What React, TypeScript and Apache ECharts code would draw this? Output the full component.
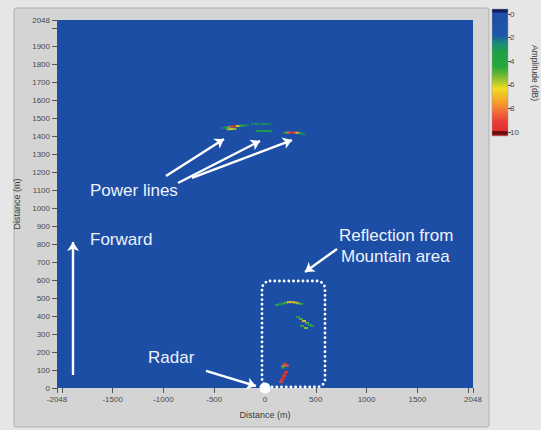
import React, { useEffect, useRef } from "react";
import * as echarts from "echarts";

// ---- axis ticks / labels ----
const xLabelValues = [-2048, -1500, -1000, -500, 0, 500, 1000, 1500, 2048];
const xTickValues = [-2048, -2000, -1500, -1000, -500, 0, 500, 1000, 1500, 2000, 2048];
const yLabelValues = [0, 100, 200, 300, 400, 500, 600, 700, 800, 900, 1000, 1100, 1200, 1300, 1400, 1500, 1600, 1700, 1800, 1900, 2048];
const yTickValues = [0, 100, 200, 300, 400, 500, 600, 700, 800, 900, 1000, 1100, 1200, 1300, 1400, 1500, 1600, 1700, 1800, 1900, 2000, 2048];

// ---- amplitude colour scale (dB) ----
const ampMin = 0;
const ampMax = 10;
const ampColors = ["#1f4ea6", "#1f52a8", "#1d6a98", "#1a9a52", "#24a63e", "#5cb234", "#dcd424", "#f4b42a", "#f2763a", "#e84436", "#e02a2a"];

// ---- echoes: [distance x (m), distance y (m), amplitude] ----
const powerLineA = [
  [-413, 1448, 2.5], [-384, 1450, 3.5], [-354, 1452, 5], [-325, 1455, 9], [-295, 1457, 9.5],
  [-266, 1458, 6], [-236, 1460, 4.5], [-207, 1461, 3.5], [-177, 1462, 2.5],
  [-360, 1440, 5.5], [-330, 1441, 6], [-300, 1442, 5.5],
];
const powerLineB = [
  [-118, 1469, 2.5], [-80, 1470, 3], [-40, 1470, 2.5], [0, 1469, 3], [40, 1468, 2.5],
  [-70, 1430, 3.5], [-30, 1431, 4], [10, 1430, 4], [50, 1429, 3.5],
];
const powerLineC = [
  [200, 1421, 4], [230, 1422, 8], [260, 1422, 9.5], [290, 1421, 9], [320, 1420, 7],
  [350, 1418, 4], [380, 1412, 2.5],
];
const mountainA = [
  [118, 462, 4], [148, 466, 3.5], [177, 470, 4], [207, 475, 5], [236, 478, 6],
  [266, 478, 7], [295, 476, 6.5], [325, 472, 5.5], [354, 468, 4.5],
];
const mountainB = [
  [325, 395, 4], [354, 384, 5], [384, 373, 6.5], [413, 362, 5], [443, 351, 4], [463, 345, 3.5],
  [364, 345, 4.5], [404, 334, 5.5],
];
const mountainC = [
  [195, 135, 9], [180, 122, 8], [215, 125, 8.5], [177, 114, 4],
  [207, 89, 9.5], [197, 78, 10], [187, 67, 9.5], [177, 55, 10], [167, 45, 9.5], [158, 34, 9],
];

// ---- annotations (data coordinates) ----
const radarPos = [[0, 0]];
const arrows = [
  [[-1890, 72], [-1890, 812]],
  [[-975, 1180], [-404, 1386]],
  [[-857, 1141], [-49, 1375]],
  [[-719, 1169], [266, 1380]],
  [[709, 774], [394, 646]],
  [[-581, 95], [-89, 11]],
];
const notes = [
  { text: "Power lines", x: 90, y: 190 },
  { text: "Forward", x: 90, y: 239 },
  { text: "Reflection from", x: 339, y: 235 },
  { text: "Mountain area", x: 341, y: 256 },
  { text: "Radar", x: 148, y: 357 },
];

export default function App() {
  const ref = useRef<HTMLDivElement>(null);
  useEffect(() => {
    if (!ref.current) return;
    const chart = echarts.init(ref.current, undefined, { renderer: "svg" });
    const echoes = [...powerLineA, ...powerLineB, ...powerLineC, ...mountainA, ...mountainB, ...mountainC];
    const tickFont = { fontSize: 8, color: "#4a4a4a", fontFamily: "Liberation Sans", formatter: (v: number) => String(v) };
    const barGradient = new echarts.graphic.LinearGradient(0, 0, 0, 1, [
      { offset: 0, color: "#0d1f5e" },
      { offset: 0.025, color: "#0d1f5e" },
      { offset: 0.03, color: "#1f4ea6" },
      { offset: 0.205, color: "#1f56a8" },
      { offset: 0.27, color: "#1a8a78" },
      { offset: 0.337, color: "#1ea046" },
      { offset: 0.457, color: "#28a83c" },
      { offset: 0.55, color: "#90c030" },
      { offset: 0.625, color: "#f0dc20" },
      { offset: 0.72, color: "#f4a82c" },
      { offset: 0.83, color: "#f06038" },
      { offset: 0.894, color: "#e83838" },
      { offset: 0.96, color: "#e03030" },
      { offset: 0.965, color: "#6a0e0e" },
      { offset: 0.985, color: "#6a0e0e" },
      { offset: 1, color: "#e03a3a" },
    ]);
    chart.setOption({
      animation: false,
      backgroundColor: "#e6e6e6",
      grid: [
        { left: 57, top: 20, width: 416, height: 368, show: true, backgroundColor: "#1c4ea5", borderWidth: 0, outerBoundsMode: "none" },
        { left: 492, top: 14, width: 16, height: 118, show: false, outerBoundsMode: "none" },
      ],
      xAxis: [
        {
          type: "value", min: -2048, max: 2048, gridIndex: 0, position: "bottom",
          name: "Distance (m)", nameLocation: "middle", nameGap: 22,
          nameTextStyle: { fontSize: 9, color: "#3a3a3a", fontFamily: "Liberation Sans" },
          axisLine: { show: false, onZero: false },
          splitLine: { show: false },
          axisTick: { show: true, length: 5, lineStyle: { color: "#555" }, customValues: xTickValues },
          axisLabel: { ...tickFont, margin: 7, customValues: xLabelValues, showMinLabel: true, showMaxLabel: true },
        },
        { type: "value", gridIndex: 1, show: false, min: 0, max: 1 },
      ],
      yAxis: [
        {
          type: "value", min: 0, max: 2048, gridIndex: 0, position: "left",
          name: "Distance (m)", nameLocation: "middle", nameGap: 21, nameRotate: 90,
          nameTextStyle: { fontSize: 9, color: "#3a3a3a", fontFamily: "Liberation Sans" },
          axisLine: { show: false, onZero: false },
          splitLine: { show: false },
          axisTick: { show: true, length: 5, lineStyle: { color: "#555" }, customValues: yTickValues },
          axisLabel: { ...tickFont, margin: 7, customValues: yLabelValues, showMinLabel: true, showMaxLabel: true },
        },
        {
          type: "value", gridIndex: 1, min: ampMin, max: ampMax, interval: 2, inverse: true, position: "right",
          name: "Amplitude (dB)", nameLocation: "middle", nameGap: 22, nameRotate: -90,
          nameTextStyle: { fontSize: 8.5, color: "#3a3a3a", fontFamily: "Liberation Sans" },
          axisLine: { show: false, onZero: false },
          splitLine: { show: false },
          axisTick: { show: true, length: 3, lineStyle: { color: "#444" } },
          axisLabel: { ...tickFont, margin: 2 },
        },
      ],
      visualMap: {
        show: false, type: "continuous", dimension: 2, min: ampMin, max: ampMax, seriesIndex: 0,
        inRange: { color: ampColors },
      },
      graphic: [
        { type: "rect", z: -10, shape: { x: 14, y: 8, width: 475, height: 419, r: 2 }, style: { fill: "#d4d4d4", stroke: "#b0b0b0", lineWidth: 1 } },
        { type: "rect", z: 10, shape: { x: 492, y: 9, width: 16, height: 127 }, style: { fill: barGradient, stroke: "#9a9a9a", lineWidth: 0.5 } },
        {
          type: "rect", z: 50, shape: { x: 262, y: 281, width: 63, height: 106, r: 8 },
          style: { fill: "none", stroke: "#ffffff", lineWidth: 2.8, lineDash: [0.1, 4.6], lineCap: "round" },
        },
        ...notes.map((n) => ({
          type: "text", z: 60, x: n.x, y: n.y,
          style: { text: n.text, fill: "#eef2fb", font: '17px "Liberation Sans"', textVerticalAlign: "middle", verticalAlign: "middle" },
        })),
      ],
      series: [
        {
          type: "scatter", xAxisIndex: 0, yAxisIndex: 0, data: echoes,
          symbol: "rect", symbolSize: [4, 2], itemStyle: { opacity: 0.9 }, z: 5,
        },
        {
          type: "lines", coordinateSystem: "cartesian2d", xAxisIndex: 0, yAxisIndex: 0, z: 20,
          symbol: ["none", "arrow"], symbolSize: 9,
          lineStyle: { color: "#ffffff", width: 2.4, opacity: 1, curveness: 0 },
          data: arrows.map((c) => ({ coords: c })),
        },
        {
          type: "scatter", xAxisIndex: 0, yAxisIndex: 0, data: radarPos, clip: false, z: 30,
          symbol: "circle", symbolSize: 11, itemStyle: { color: "#ffffff", opacity: 1 },
        },
      ],
    });
    return () => chart.dispose();
  }, []);
  return <div ref={ref} style={{ position: "fixed", left: 0, top: 0, width: 541, height: 430 }} />;
}
